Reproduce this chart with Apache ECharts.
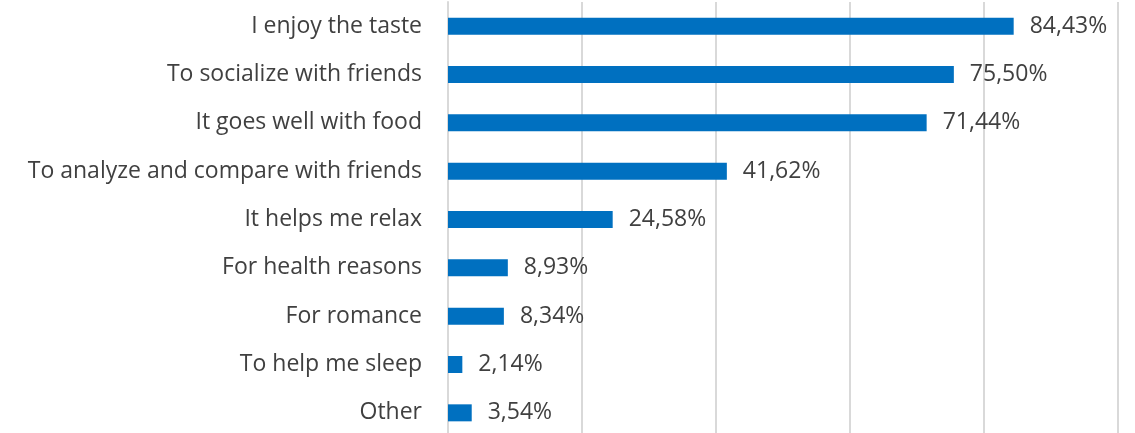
<!DOCTYPE html>
<html>
<head>
<meta charset="utf-8">
<script src="https://cdn.jsdelivr.net/npm/echarts@6/dist/echarts.min.js"></script>
<style>
  html, body { margin: 0; padding: 0; background: #ffffff; overflow: hidden; }
  /* canvas runs a few pixels past the bottom edge so the last band keeps full height */
  #chart { width: 1135px; height: 445px; }
</style>
</head>
<body>
<div id="chart"></div>
<script>
// Reasons for drinking, share of respondents (%)
const categories = [
  'I enjoy the taste',
  'To socialize with friends',
  'It goes well with food',
  'To analyze and compare with friends',
  'It helps me relax',
  'For health reasons',
  'For romance',
  'To help me sleep',
  'Other'
];
const values = [84.43, 75.50, 71.44, 41.62, 24.58, 8.93, 8.34, 2.14, 3.54];

const FONT = '"Open Sans", sans-serif';
const TEXT = '#404040';
const GRID = '#d9d9d9';

const chart = echarts.init(document.getElementById('chart'));
chart.setOption({
  animation: false,
  grid: { left: 448, right: 17, top: 2, height: 435, containLabel: false },
  xAxis: {
    type: 'value',
    min: 0,
    max: 100,
    interval: 20,
    axisLabel: { show: false },
    axisLine: { show: false },
    axisTick: { show: false },
    splitLine: { show: true, lineStyle: { color: GRID, width: 2 } }
  },
  yAxis: {
    type: 'category',
    data: categories,
    inverse: true,
    axisLine: { show: true, lineStyle: { color: GRID, width: 2 } },
    axisTick: { show: false },
    axisLabel: {
      margin: 26,
      color: TEXT,
      fontFamily: FONT,
      fontSize: 23
    }
  },
  series: [{
    type: 'bar',
    data: values,
    barWidth: 17,
    itemStyle: { color: '#0070c0' },
    label: {
      show: true,
      position: 'right',
      distance: 16,
      color: TEXT,
      fontFamily: FONT,
      fontSize: 23,
      formatter: p => p.value.toFixed(2).replace('.', ',') + '%'
    }
  }]
});
</script>
</body>
</html>
